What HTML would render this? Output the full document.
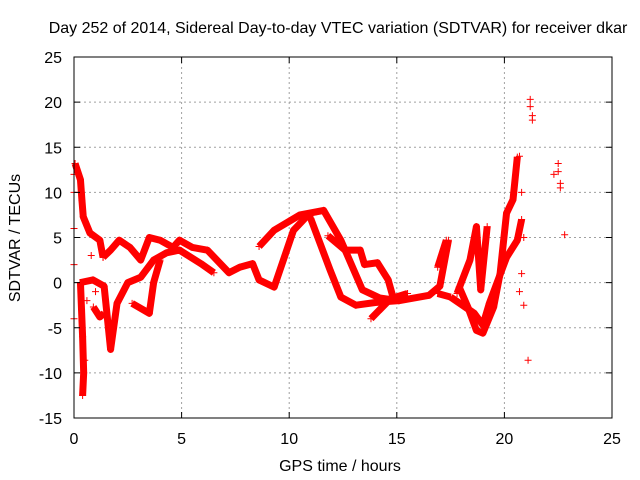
<!DOCTYPE html>
<html><head><meta charset="utf-8"><style>
body{margin:0;background:#fff}
svg{display:block;font-family:"Liberation Sans",sans-serif}
</style></head><body>
<svg id="chart" width="640" height="480" viewBox="0 0 640 480">
<text x="338" y="33" font-size="16" text-anchor="middle">Day 252 of 2014, Sidereal Day-to-day VTEC variation (SDTVAR) for receiver dkar</text>
<text x="340" y="471" font-size="16" text-anchor="middle">GPS time / hours</text>
<text transform="translate(20,238) rotate(-90)" font-size="16" text-anchor="middle">SDTVAR / TECUs</text>
<g id="grid"></g>
<g id="marks"></g>
<rect x="74" y="57" width="538" height="361" fill="none" stroke="#000" stroke-width="1"/>
<g id="ticks"></g>
</svg>
<script>
const xTicks=[0,5,10,15,20,25];
const yTicks=[-15,-10,-5,0,5,10,15,20,25];
const trackC=[[0.05,13.2],[0.3,11.4],[0.37,9.1],[0.43,7.3],[0.74,5.5],[1.2,4.7],[1.35,2.8]];
const trackD=[[1.35,2.8],[1.7,3.6],[2.1,4.7],[2.6,3.9],[3.1,2.5],[3.5,5],[4,4.7],[4.6,3.9],[4.9,4.7],[5.5,3.9],[6.2,3.6],[6.8,2.1],[7.2,1.1],[7.7,1.7],[8.3,2.1],[8.6,0.3],[9.3,-0.5],[10.2,5.8],[10.8,7.3],[11.1,7.5]];
const trackE=[[0.28,0],[0.88,0.3],[1.4,-0.4],[1.7,-7.4],[2,-2.3],[2.5,0],[3.1,0.6],[3.7,2.5],[4.3,3.3],[4.9,3.6],[5.9,2.1],[6.5,1.1]];
const trackF=[[2.7,-2.3],[3.5,-3.4],[3.7,0],[4,2.5]];
const trackG=[[0.9,-2.7],[1.2,-3.8],[1.4,-3.4]];
const trackK=[[0.3,0],[0.35,-3],[0.4,-6],[0.45,-10],[0.4,-12.5]];
const trackA=[[8.6,4.0],[9.3,5.8],[10.5,7.5],[11.6,8],[12.4,4.7],[13.4,-0.8],[14.2,-1.7],[15.1,-2],[16.5,-1.4],[17,-0.4],[17.4,4.7]];
const trackB=[[11,7.1],[11.9,1.4],[12.4,-1.6],[13.1,-2.5],[14,-2.2],[15.1,-2]];
const trackL=[[11.8,5.2],[12.6,3.6],[13.3,3.6],[13.5,2],[14.1,2.2],[14.6,0.3],[14.8,-1.4],[15.1,-2]];
const trackM=[[13.8,-4],[14.7,-1.8],[15.5,-1.2]];
const trackH=[[17.9,-0.5],[18.3,-2.7],[18.7,-5.3],[19,-5.6],[19.5,-2.7],[19.8,1],[20.1,7.7],[20.4,9.2],[20.6,13.9]];
const trackI=[[17.8,-1.2],[18.4,2.5],[18.7,6.2],[18.9,-0.8],[19.2,6.2]];
const trackJ=[[17.5,-1.6],[18.6,-3.4],[19,-4.7],[19.3,-2.3],[20.1,2.8],[20.6,4.7],[20.8,7]];
const trackN=[[16.9,-1.2],[17.5,-1.6]];
const trackO=[[16.9,1.7],[17.3,4.7]];
const scatterT=[0,0,0,0,0,0.5,0.6,0.8,1.0,20.7,20.8,20.9,20.9,21.1,21.2,21.2,21.3,21.3,22.3,22.5,22.5,22.6,22.6,22.8,20.7,20.8];
const scatterV=[12,10,6,2,-4,-8.6,-2,3,-1,14,10,5,-2.5,-8.6,20.3,19.5,18.5,18,12,13.2,12.3,10.5,11,5.3,-1,1];
const tracks=[trackC,trackD,trackE,trackF,trackG,trackK,trackA,trackB,trackL,trackM,trackH,trackI,trackJ,trackN,trackO];
const NS='http://www.w3.org/2000/svg';
const X0=74,X1=612,Y0=418,Y1=57;
const sx=t=>X0+(t-0)/25*(X1-X0);
const sy=v=>Y0-(v+15)/40*(Y0-Y1);
const grid=document.getElementById('grid'),ticks=document.getElementById('ticks'),marks=document.getElementById('marks'),svg=document.getElementById('chart');
function mk(tag,attrs,parent){const e=document.createElementNS(NS,tag);for(const k in attrs)e.setAttribute(k,attrs[k]);parent.appendChild(e);return e;}
xTicks.forEach(t=>{const x=sx(t);
 if(t>0&&t<25){const g=mk('line',{x1:x,x2:x,y1:Y1,y2:Y0,stroke:'#a0a0a0','stroke-dasharray':'2,3'},grid);
 
 }
 mk('line',{x1:x,x2:x,y1:Y0,y2:Y0-6,stroke:'#000'},ticks);
 mk('line',{x1:x,x2:x,y1:Y1,y2:Y1+6,stroke:'#000'},ticks);
 const l=mk('text',{x:x,y:444,'font-size':16,'text-anchor':'middle'},svg);l.textContent=t;
 
 
});
yTicks.forEach(v=>{const y=sy(v);
 if(v>-15&&v<25){const g=mk('line',{x1:X0,x2:X1,y1:y,y2:y,stroke:'#a0a0a0','stroke-dasharray':'2,3'},grid);
 
 }
 mk('line',{x1:X0,x2:X0+6,y1:y,y2:y,stroke:'#000'},ticks);
 mk('line',{x1:X1,x2:X1-6,y1:y,y2:y,stroke:'#000'},ticks);
 const l=mk('text',{x:62,y:y+6,'font-size':16,'text-anchor':'end'},svg);l.textContent=v;
 
 
});
function plus(x,y){mk('path',{d:`M${x-3.5} ${y}h7M${x} ${y-3.5}v7`,stroke:'#f00','stroke-width':1},marks);}
tracks.forEach(tr=>{
 const p=mk('polyline',{points:tr.map(d=>sx(d[0])+','+sy(d[1])).join(' '),fill:'none',stroke:'#f00','stroke-width':7,'stroke-linejoin':'round'},marks);
 
 
 tr.forEach(d=>plus(sx(d[0]),sy(d[1])));
});
scatterT.forEach((t,i)=>plus(sx(t),sy(scatterV[i])));
</script>
</body></html>
